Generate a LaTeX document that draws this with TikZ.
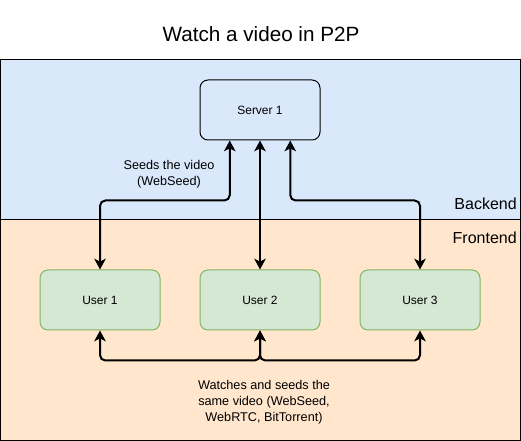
\documentclass[tikz,border=0pt]{standalone}
\usepackage{fontspec}
\setmainfont{Liberation Sans}
\usetikzlibrary{arrows.meta,calc}
\definecolor{backfill}{HTML}{DAE8FC}
\definecolor{frontfill}{HTML}{FFE6CC}
\definecolor{userfill}{HTML}{D5E8D4}
\definecolor{userline}{HTML}{82B366}
\tikzset{
  box/.style={rectangle,rounded corners=6pt,minimum width=90pt,minimum height=45pt,inner sep=0pt,font=\fontsize{9}{11}\selectfont},
  link/.style={{Stealth[length=8pt,width=8.5pt,inset=2pt]}-{Stealth[length=8pt,width=8.5pt,inset=2pt]},line width=1.5pt,rounded corners=4pt},
  lbl/.style={align=center,inner sep=0pt,font=\fontsize{9.5}{12}\selectfont}
}

\begin{document}
\begin{tikzpicture}[x=0.75pt,y=-0.75pt]
 		\useasboundingbox (0,0) rectangle (521,441);

 		\draw[fill=backfill,line width=0.75pt] (0,60) rectangle (520,220);
 		\draw[fill=frontfill,line width=0.75pt] (0,220) rectangle (520,440);

 		\node[font=\fontsize{15.5}{18}\selectfont] (title) at (261,34) {Watch a video in P2P};
 		\node[anchor=east,inner sep=0pt,font=\fontsize{12}{14}\selectfont] (back) at (517,204) {Backend};
 		\node[anchor=east,inner sep=0pt,font=\fontsize{12}{14}\selectfont] (front) at (517,238) {Frontend};

 		\node[box,draw,fill=backfill,line width=0.75pt] (srv) at (260,110) {Server 1};
 		\node[box,draw=userline,fill=userfill,line width=0.75pt] (u1) at (100,300) {User 1};
 		\node[box,draw=userline,fill=userfill,line width=0.75pt] (u2) at (260,300) {User 2};
 		\node[box,draw=userline,fill=userfill,line width=0.75pt] (u3) at (420,300) {User 3};

 		\draw[link] ($(srv.south west)!0.25!(srv.south east)$) -- ++(0,60) -| (u1.north);
 		\draw[link] (srv.south) -- (u2.north);
 		\draw[link] ($(srv.south west)!0.75!(srv.south east)$) -- ++(0,60) -| (u3.north);

 		\draw[link] (u1.south) -- ++(0,30) -| (u2.south);
 		\draw[link] (u3.south) -- ++(0,30) -| (u2.south);

 		\node[lbl] (seed) at (169,174) {Seeds the video\\(WebSeed)};
 		\node[lbl] (watch) at (264,402) {Watches and seeds the\\same video (WebSeed,\\WebRTC, BitTorrent)};
\end{tikzpicture}
\end{document}
